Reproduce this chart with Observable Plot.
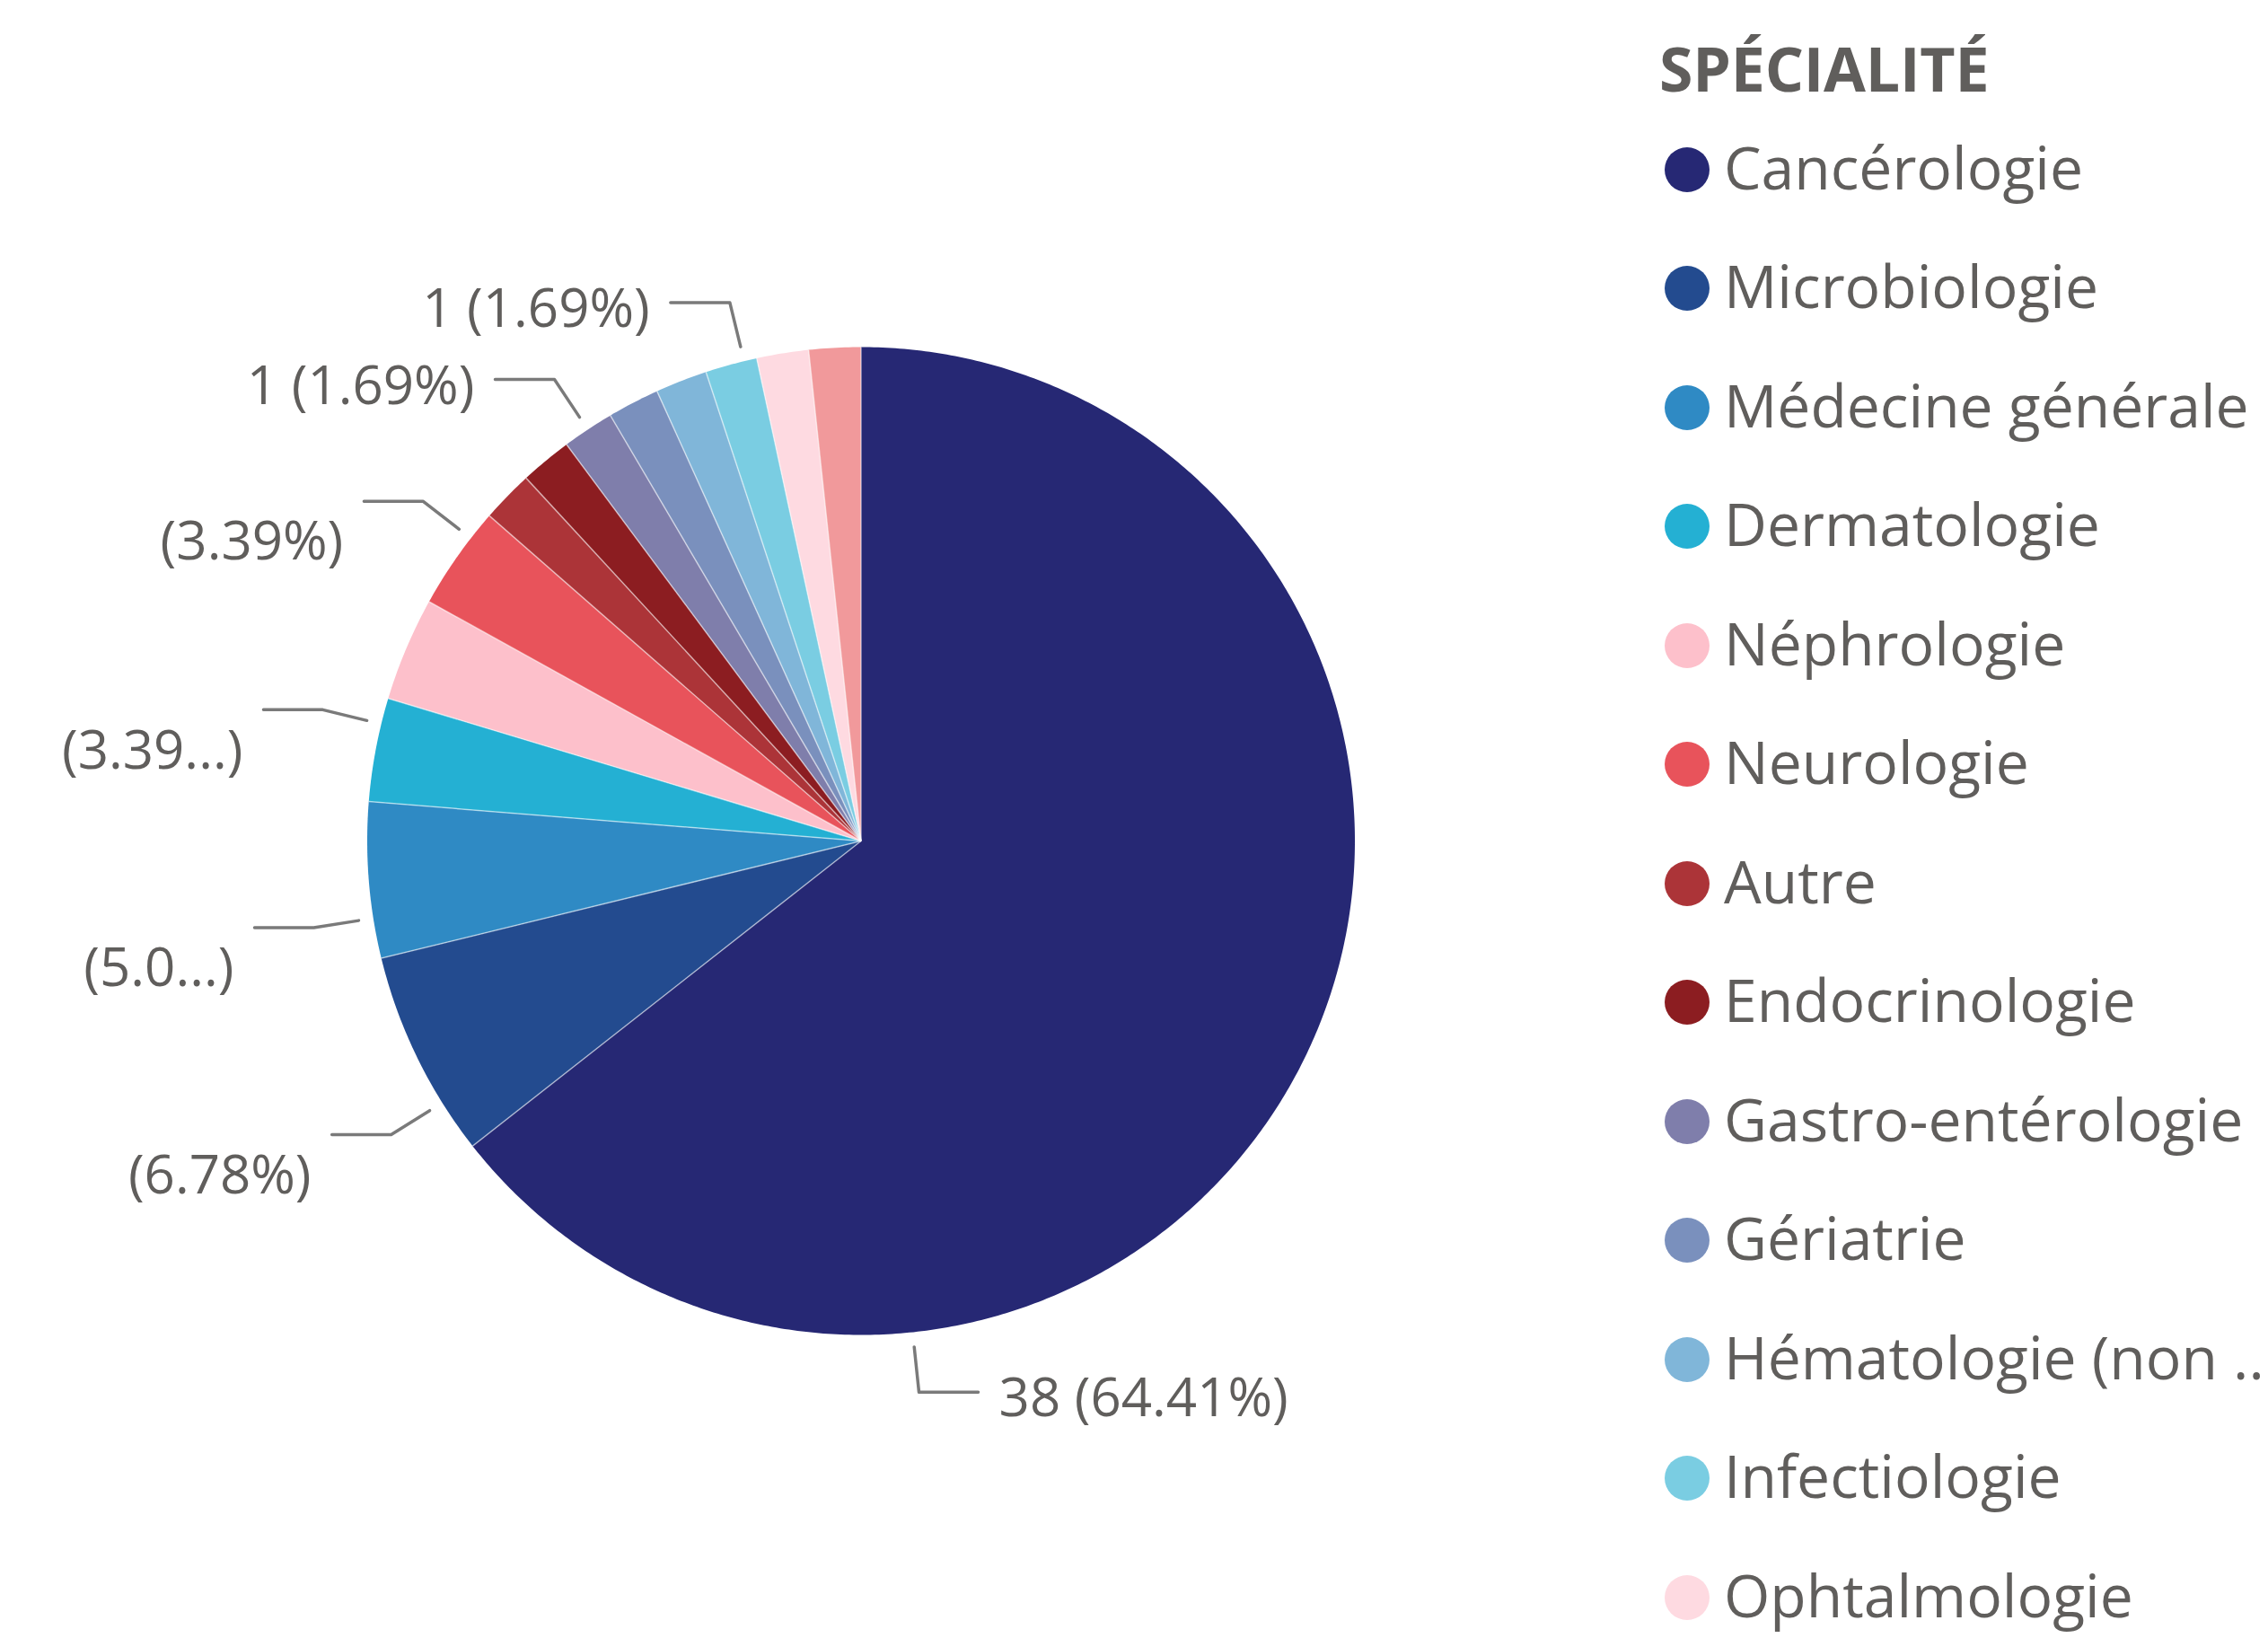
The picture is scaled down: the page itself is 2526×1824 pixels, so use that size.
<!DOCTYPE html>
<html><head><meta charset="utf-8">
<script src="https://cdn.jsdelivr.net/npm/d3@7"></script>
<script src="https://cdn.jsdelivr.net/npm/@observablehq/plot@0.6"></script>
<style>
html,body{margin:0;padding:0;background:#fff;}
#wrap{position:relative;width:2526px;height:1824px;overflow:hidden;font-family:"Open Sans",sans-serif;color:#605E5C;}
#chart{position:absolute;left:0;top:0;}
#legend{position:absolute;left:0;top:0;width:2526px;height:1824px;}
.title{position:absolute;left:1848px;font-weight:700;font-size:68px;line-height:68px;letter-spacing:-0.2px;white-space:nowrap;}
.item{position:absolute;left:1854px;height:90px;display:flex;align-items:center;white-space:nowrap;font-size:66px;line-height:90px;}
.item span.tx{position:relative;top:-4px;}
.sw{width:50px;height:50px;border-radius:50%;margin-right:16px;flex:none;}
</style></head><body><div id="wrap"><div id="chart"></div><div id="legend"></div></div>
<script>
// ---- data ----
const legendTitle = "SPÉCIALITÉ";
const categories = ["Cancérologie","Microbiologie","Médecine générale","Dermatologie","Néphrologie","Neurologie","Autre","Endocrinologie","Gastro-entérologie","Gériatrie","Hématologie (non ...","Infectiologie","Ophtalmologie","Pneumologie"];
const counts = [38,4,3,2,2,2,1,1,1,1,1,1,1,1];
const colors = ["#262874","#234B8F","#2F8AC4","#24B0D3","#FDC0CB","#E8535B","#AC3438","#8C1D21","#7F7EAB","#7A90BD","#80B6D9","#7ACDE2","#FEDAE1","#F1999B"];
const labelCategories = ["Infectiologie","Gastro-entérologie","Neurologie","Dermatologie","Médecine générale","Microbiologie","Cancérologie"];
const labelTexts = ["1 (1.69%)","1 (1.69%)","\n(3.39%)","\n(3.39...)","\n(5.0...)","\n(6.78%)","38 (64.41%)"];

// ---- layout (label placement as spread by the original renderer) ----
const W = 1830, H = 1824;
const cx = 958.5, cy = 936, R = 550;
const labelAnchorDeg = {"Infectiologie": 346.3, "Gastro-entérologie": 326.4, "Neurologie": 307.8, "Dermatologie": 283.7, "Médecine générale": 261, "Microbiologie": 238, "Cancérologie": 174};
const labelFont = 60, wrappedDy = 46, singleDy = 8;

const arcs = d3.pie().sort(null).value(d => d)(counts);
const slicePts = [];
arcs.forEach((a, i) => {
  const cat = categories[i];
  const n = Math.max(2, Math.ceil((a.endAngle - a.startAngle) / (Math.PI / 360)));
  slicePts.push({cat, x: 0, y: 0});
  for (let k = 0; k <= n; k++) {
    const t = a.startAngle + (a.endAngle - a.startAngle) * k / n;
    slicePts.push({cat, x: Math.sin(t), y: Math.cos(t)});
  }
  slicePts.push({cat, x: 0, y: 0});
});

const leaderPts = [], labelsL = [], labelsR = [];
labelCategories.forEach((c, j) => {
  const a = arcs[categories.indexOf(c)];
  const ang = labelAnchorDeg[c] != null ? labelAnchorDeg[c] * Math.PI / 180 : (a.startAngle + a.endAngle) / 2;
  const s = Math.sin(ang), co = Math.cos(ang);
  const side = s < 0 ? -1 : 1;
  const p0 = {x: 1.03 * s, y: 1.03 * co}, p1 = {x: 1.122 * s, y: 1.122 * co};
  const p2 = {x: p1.x + side * 0.12, y: p1.y};
  [p0, p1, p2].forEach(p => leaderPts.push({id: j, ...p}));
  const lines = labelTexts[j].split("\n");
  const rec = {x: p2.x + side * 0.042, y: p2.y, text: lines[lines.length - 1], wrapped: lines.length > 1};
  (side < 0 ? labelsL : labelsR).push(rec);
});

const textOpts = {x: "x", y: "y", text: "text", fontSize: labelFont, fill: "#605E5C", fontFamily: "Open Sans"};
const chart = Plot.plot({
  width: W, height: H, margin: 0,
  x: {type: "linear", domain: [-1, 1], range: [cx - R, cx + R], axis: null},
  y: {type: "linear", domain: [-1, 1], range: [cy + R, cy - R], axis: null},
  color: {type: "ordinal", domain: categories, range: colors},
  style: {fontFamily: "Open Sans", background: "white", overflow: "visible"},
  marks: [
    Plot.line(slicePts, {x: "x", y: "y", z: "cat", fill: "cat", stroke: "none", curve: "linear"}),
    Plot.link(arcs, {x1: () => 0, y1: () => 0, x2: d => Math.sin(d.startAngle), y2: d => Math.cos(d.startAngle), stroke: "white", strokeWidth: 1.5, strokeOpacity: 0.55}),
    Plot.line(leaderPts, {x: "x", y: "y", z: "id", stroke: "#7a7a7a", strokeWidth: 3.5, curve: "linear"}),
    Plot.text(labelsL.filter(d => !d.wrapped), {...textOpts, textAnchor: "end", dy: singleDy}),
    Plot.text(labelsL.filter(d => d.wrapped), {...textOpts, textAnchor: "end", dy: wrappedDy}),
    Plot.text(labelsR, {...textOpts, textAnchor: "start", dy: singleDy})
  ]
});
document.getElementById("chart").appendChild(chart);

// ---- legend ----
const legend = document.getElementById("legend");
const t = document.createElement("div");
t.className = "title"; t.style.top = "42px"; t.textContent = legendTitle;
legend.appendChild(t);
categories.forEach((c, i) => {
  const it = document.createElement("div");
  it.className = "item";
  it.style.top = (188.5 + 132.5 * i - 45) + "px";
  const sw = document.createElement("span");
  sw.className = "sw"; sw.style.background = colors[i];
  const tx = document.createElement("span");
  tx.className = "tx";
  tx.textContent = c;
  it.appendChild(sw); it.appendChild(tx);
  legend.appendChild(it);
});
</script></body></html>
